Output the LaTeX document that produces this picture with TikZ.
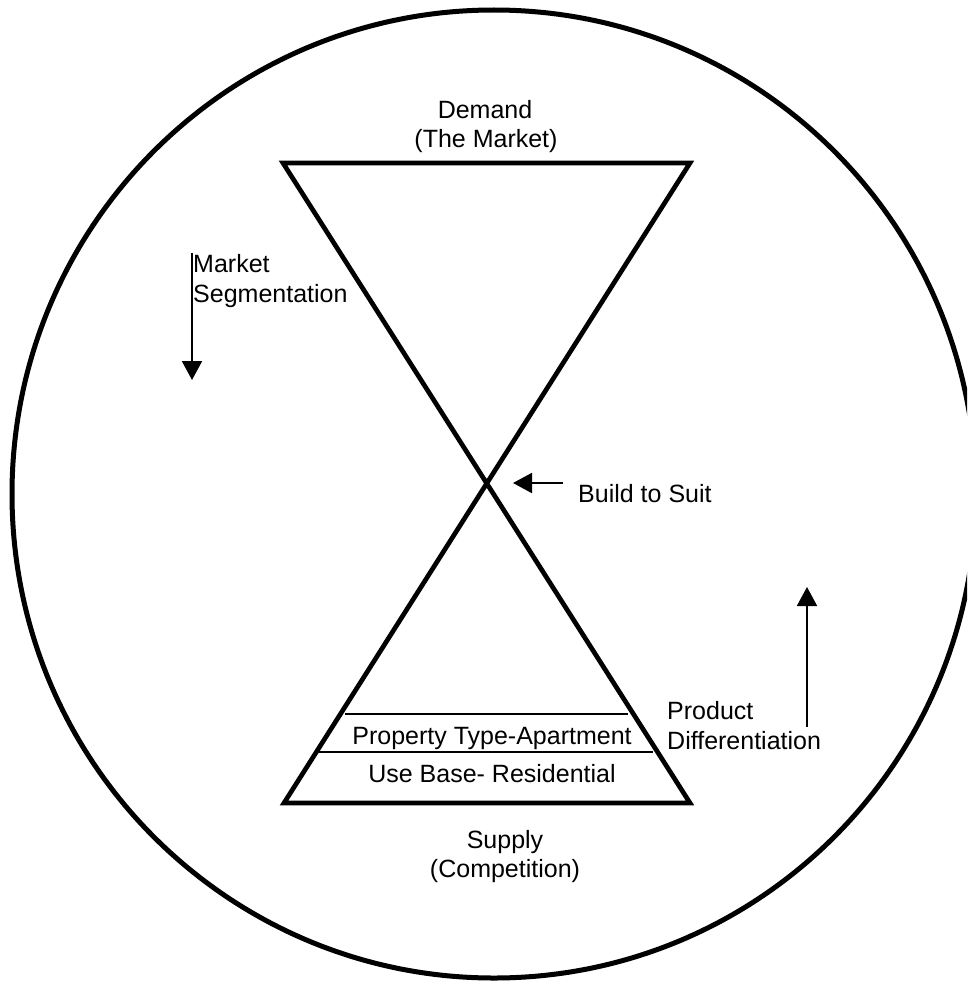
\documentclass[tikz,border=0pt]{standalone}
\usepackage{fontspec}
\setmainfont{Liberation Sans}
\usetikzlibrary{arrows.meta}
\begin{document}
\begin{tikzpicture}[x=1pt,y=-1pt,
  label/.style={inner sep=0pt,font=\fontsize{25}{30}\selectfont},
  thick border/.style={line width=4.7pt,line join=miter},
  rule/.style={line width=1.7pt},
  pointer/.style={line width=2pt,-{Triangle[length=19pt,width=20pt]}}]
\useasboundingbox (0,0) rectangle (967,982);
\fill[white] (0,0) rectangle (967,982);
\clip (0,0) rectangle (967,982);

% outer circle
\draw[line width=5pt] (494,494) ellipse [x radius=482, y radius=484];

% hourglass corners
\coordinate (tl) at (283,163);
\coordinate (tr) at (690,163);
\coordinate (bl) at (284,803);
\coordinate (br) at (690,803);
\draw[thick border] (tl) -- (tr) -- (bl) -- (br) -- cycle;

% layers in the lower cone
\coordinate (r1a) at (345,714);
\coordinate (r1b) at (628,714);
\coordinate (r2a) at (319,752);
\coordinate (r2b) at (653,752);
\draw[rule] (r1a) -- (r1b);
\draw[rule] (r2a) -- (r2b);

% labels
\node[label,anchor=base] (demand) at (485,118) {Demand};
\node[label,anchor=base] (market) at (486,147) {(The Market)};
\node[label,anchor=base west] (seg1) at (193,272) {Market};
\node[label,anchor=base west] (seg2) at (193,302) {Segmentation};
\node[label,anchor=base west] (bts) at (578,502) {Build to Suit};
\node[label,anchor=base west] (pd1) at (667,719) {Product};
\node[label,anchor=base west] (pd2) at (667,749) {Differentiation};
\node[label,anchor=base] (ptype) at (492,744) {Property Type-Apartment};
\node[label,anchor=base] (ubase) at (492,782) {Use Base- Residential};
\node[label,anchor=base] (supply) at (505,848) {Supply};
\node[label,anchor=base] (comp) at (505,877) {(Competition)};

% arrows
\coordinate (segtop) at (192,253);
\coordinate (segtip) at (192,380);
\draw[pointer] (segtop) -- (segtip);
\coordinate (btsfrom) at (563,483);
\coordinate (btstip) at (513,483);
\draw[pointer] (btsfrom) -- (btstip);
\coordinate (pdfrom) at (807,727);
\coordinate (pdtip) at (807,587);
\draw[pointer] (pdfrom) -- (pdtip);
\end{tikzpicture}
\end{document}
